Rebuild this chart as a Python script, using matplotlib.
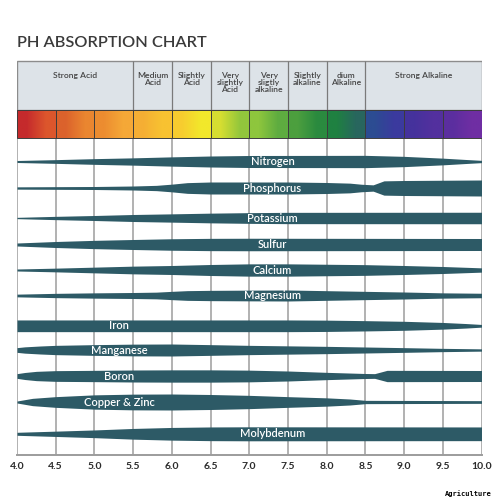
import numpy as np
import matplotlib
matplotlib.use("Agg")
import matplotlib.pyplot as plt
from matplotlib.patches import Rectangle
from matplotlib.colors import to_rgb

# pH scale
ph_ticks = [4.0, 4.5, 5.0, 5.5, 6.0, 6.5, 7.0, 7.5, 8.0, 8.5, 9.0, 9.5, 10.0]

# header zones
zone_edges = [4.0, 5.5, 6.0, 6.5, 7.0, 7.5, 8.0, 8.5, 10.0]
zone_names = ["Strong Acid", "Medium\nAcid", "Slightly\nAcid", "Very\nslightly\nAcid",
              "Very\nsligtly\nalkaline", "Slightly\nalkaline", "dium\nAlkaline", "Strong Alkaline"]

# colour band, one gradient per 0.5 pH cell (left colour -> right colour)
cell_left = ['#c52a2c', '#db622c', '#ec8c30', '#f5ae34', '#f7cc2f', '#d6de31',
             '#8ec63d', '#4c9f3e', '#1f8141', '#2c4c92', '#45329c', '#5b2e9f']
cell_right = ['#dc562c', '#ea8630', '#f5a837', '#f8c231', '#f2e82b', '#92c63c',
              '#5eac40', '#2a8a3f', '#28665e', '#3b3a9e', '#53309e', '#6f2ea3']

# nutrient availability: knot pH values and band thickness
nutrients = ["Nitrogen", "Phosphorus", "Potassium", "Sulfur", "Calcium", "Magnesium",
             "Iron", "Manganese", "Boron", "Copper & Zinc", "Molybdenum"]

nitrogen_ph = [4.0, 4.5, 5.0, 5.5, 6.0, 6.5, 7.0, 8.5, 9.0, 9.5, 9.8, 10.0]
nitrogen_w = [2.0, 3.7, 5.7, 7.3, 9.3, 11.0, 12.0, 12.3, 10.3, 6.7, 4.0, 2.3]

phosphorus_ph = [4.0, 5.0, 5.5, 5.8, 6.0, 6.2, 6.5, 7.5, 8.0, 8.3, 8.45, 8.6, 8.74, 9.0, 10.0]
phosphorus_w = [2.3, 3.0, 4.0, 5.3, 7.7, 10.7, 12.0, 12.0, 11.0, 9.7, 7.5, 6.3, 14.3, 15.0, 16.0]

potassium_ph = [4.0, 4.5, 5.0, 5.5, 6.0, 6.5, 7.0, 7.5, 10.0]
potassium_w = [1.3, 3.3, 5.0, 7.0, 8.3, 9.7, 10.7, 11.3, 11.5]

sulfur_ph = [4.0, 4.5, 5.0, 5.5, 6.0, 6.5, 7.0, 10.0]
sulfur_w = [3.0, 6.0, 8.3, 10.0, 11.5, 12.3, 12.5, 12.0]

calcium_ph = [4.0, 4.5, 5.0, 5.5, 6.0, 6.5, 7.0, 7.5, 8.5, 9.0, 9.5, 10.0]
calcium_w = [2.0, 3.7, 5.7, 7.7, 9.0, 11.0, 12.3, 12.3, 10.7, 9.0, 7.0, 4.3]

magnesium_ph = [4.0, 4.5, 5.0, 5.5, 5.8, 6.0, 6.2, 6.5, 7.0, 7.5, 8.5, 9.0, 9.5, 10.0]
magnesium_w = [2.7, 4.3, 5.3, 6.0, 6.7, 8.3, 9.7, 10.3, 10.7, 11.0, 8.3, 7.0, 5.3, 4.5]

iron_ph = [4.0, 7.5, 8.0, 8.5, 9.0, 9.5, 9.8, 10.0]
iron_w = [11.7, 11.7, 11.3, 10.3, 9.0, 6.7, 4.5, 2.7]

manganese_ph = [4.0, 4.1, 4.3, 4.5, 5.0, 5.5, 6.0, 6.5, 7.0, 7.5, 8.0, 8.5, 9.0, 9.5, 10.0]
manganese_w = [4.7, 6.3, 8.0, 9.3, 10.7, 11.7, 12.0, 10.7, 9.3, 8.3, 7.3, 6.0, 4.7, 3.3, 2.3]

boron_ph = [4.0, 4.1, 4.25, 4.5, 5.0, 5.5, 6.0, 6.5, 7.0, 7.5, 8.0, 8.5, 8.62, 8.78, 10.0]
boron_w = [4.7, 7.0, 9.3, 10.7, 11.3, 12.0, 12.3, 12.3, 11.7, 10.0, 7.3, 5.0, 4.7, 11.3, 11.0]

copper_ph = [4.0, 4.2, 4.5, 5.0, 5.5, 6.0, 6.5, 7.0, 7.5, 8.0, 8.3, 8.45, 8.5, 10.0]
copper_w = [2.0, 7.3, 10.7, 14.3, 15.7, 16.0, 15.0, 13.3, 10.7, 8.3, 6.0, 4.0, 3.3, 2.7]

molybdenum_ph = [4.0, 4.5, 5.0, 5.5, 6.0, 6.5, 7.0, 10.0]
molybdenum_w = [3.0, 5.3, 7.7, 10.7, 12.7, 13.7, 14.0, 13.7]

profiles = [(nitrogen_ph, nitrogen_w), (phosphorus_ph, phosphorus_w), (potassium_ph, potassium_w),
            (sulfur_ph, sulfur_w), (calcium_ph, calcium_w), (magnesium_ph, magnesium_w),
            (iron_ph, iron_w), (manganese_ph, manganese_w), (boron_ph, boron_w),
            (copper_ph, copper_w), (molybdenum_ph, molybdenum_w)]

# layout (pixel rows, y grows downward)
row_y = [161.5, 188, 218, 244.5, 270, 295.5, 325.8, 350, 376, 402, 433.8]
label_ph = [7.3, 7.3, 7.3, 7.3, 7.3, 7.3, 5.32, 5.32, 5.32, 5.32, 7.3]

band_color = '#2d5a66'
grid_color = '#9c9c9c'
font = 'Lato'

fig = plt.figure(figsize=(5, 5), dpi=100)
ax = fig.add_axes([17 / 500, 45 / 500, 464.5 / 500, 395 / 500])

# header
ax.add_patch(Rectangle((4.0, 61), 6.0, 49, facecolor='#dde3e8', edgecolor='#8c8c8c', lw=1, zorder=1))
ax.vlines(zone_edges[1:-1], 61, 110, color='#7a7a7a', lw=0.9, zorder=2)
for i, name in enumerate(zone_names):
    xc = (zone_edges[i] + zone_edges[i + 1]) / 2
    ax.text(xc, 71.5, name, ha='center', va='top', fontsize=6.1, color='#454545',
            family=font, fontweight='semibold', linespacing=1.0, zorder=3)

# colour band
for i in range(len(cell_left)):
    x0 = ph_ticks[i]
    img = np.array([[to_rgb(cell_left[i]), to_rgb(cell_right[i])]])
    ax.imshow(img, extent=[x0, x0 + 0.5, 137.5, 110], aspect='auto',
              interpolation='bilinear', zorder=1)
ax.vlines(ph_ticks[1:-1], 110, 137.5, color='#3c3c3c', lw=0.7, zorder=2)
ax.add_patch(Rectangle((4.0, 110), 6.0, 27.5, facecolor='none', edgecolor='#3c3c3c', lw=0.7, zorder=2))

# grid
ax.vlines(ph_ticks, 137.5, 455, color=grid_color, lw=1.1, zorder=1)

# nutrient bands
for name, (ph, w), yc, lx in zip(nutrients, profiles, row_y, label_ph):
    ph = np.array(ph)
    w = np.array(w)
    ax.fill_between(ph, yc - w / 2, yc + w / 2, color=band_color, lw=0, zorder=2)
    ax.text(lx, yc, name, ha='center', va='center', color='white', fontsize=8,
            family=font, fontweight='semibold', zorder=3)

ax.set_xlim(4, 10)
ax.set_ylim(455, 60)
ax.set_yticks([])
ax.set_xticks(ph_ticks)
ax.set_xticklabels(["%.1f" % v for v in ph_ticks], fontsize=7.5, color='#2a2a2a',
                   family=font, fontweight='bold')
ax.tick_params(axis='x', length=0, pad=5)
for s in ['top', 'left', 'right']:
    ax.spines[s].set_visible(False)
ax.spines['bottom'].set_color(grid_color)
ax.spines['bottom'].set_linewidth(1.4)

fig.text(17 / 500, 1 - 47 / 500, "PH ABSORPTION CHART", fontsize=11.8, color='#3a3a3a',
         family=font, fontweight='semibold', va='baseline', ha='left')
fig.text(492 / 500, 1 - 496 / 500, "Agriculture", fontsize=5, color='black',
         family='DejaVu Sans Mono', fontweight='bold', ha='right', va='baseline')

fig.savefig("out.png", dpi=100)
